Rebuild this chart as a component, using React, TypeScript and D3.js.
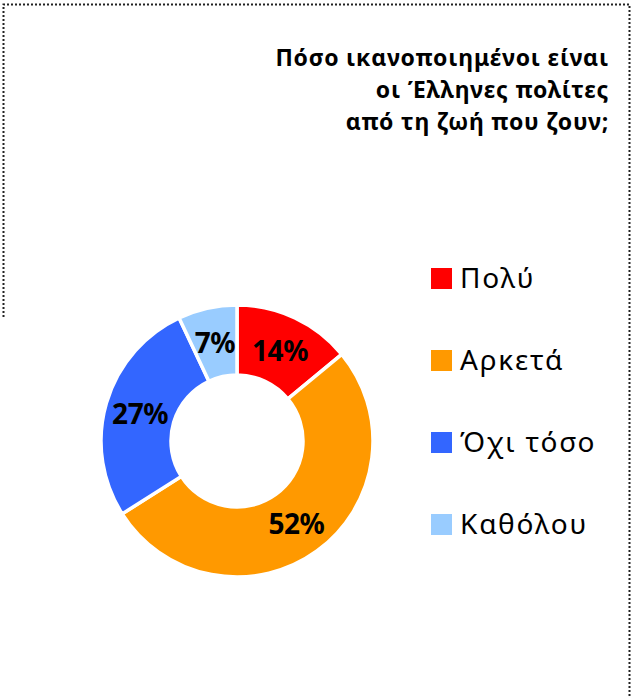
import React from "react";
import * as d3 from "d3";

const categories = ["Πολύ", "Αρκετά", "Όχι τόσο", "Καθόλου"];
const values = [14, 52, 27, 7];
const colors = ["#FF0000", "#FF9900", "#3366FF", "#99CCFF"];
const titleLines = ["Πόσο ικανοποιημένοι είναι", "οι Έλληνες πολίτες", "από τη ζωή που ζουν;"];

const W = 632;
const H = 697;
const FONT = "'Noto Sans', 'DejaVu Sans', sans-serif";

export default function App() {
  const cx = 237;
  const cy = 441;
  const outerR = 136;
  const innerR = 66;

  const pie = d3.pie<number>().sort(null).value((d) => d);
  const arcs = pie(values);
  const arc = d3.arc<d3.PieArcDatum<number>>().innerRadius(innerR).outerRadius(outerR);

  const legendX = 431;
  const legendY0 = 268;
  const legendStep = 82;

  return (
    <svg
      width={W}
      height={H}
      style={{ position: "absolute", left: 0, top: 0, background: "#fff" }}
      fontFamily={FONT}
    >
      <rect x={0} y={0} width={W} height={H} fill="#fff" />
      {/* dotted border */}
      <path
        d={`M3.5,317 L3.5,4.5 L629.5,4.5 L629.5,${H}`}
        fill="none"
        stroke="#222"
        strokeWidth={2}
        strokeDasharray="2,2"
      />
      {/* title */}
      {titleLines.map((t, i) => (
        <text
          key={i}
          x={609}
          y={66 + i * 32}
          textAnchor="end"
          fontSize={23}
          fontWeight="bold"
          letterSpacing={0.8}
          fill="#000"
        >
          {t}
        </text>
      ))}
      {/* donut */}
      <g transform={`translate(${cx},${cy})`}>
        {arcs.map((a, i) => (
          <path key={i} d={arc(a) || ""} fill={colors[i]} stroke="#fff" strokeWidth={3.5} />
        ))}
        {arcs.map((a, i) => {
          const [x, y] = arc.centroid(a);
          return (
            <text
              key={"l" + i}
              x={x}
              y={y}
              textAnchor="middle"
              dominantBaseline="central"
              fontSize={28}
              fontWeight="bold"
              fill="#000"
              letterSpacing={-0.5}
            >
              {values[i]}%
            </text>
          );
        })}
      </g>
      {/* legend */}
      {categories.map((c, i) => (
        <g key={c} transform={`translate(${legendX},${legendY0 + i * legendStep})`}>
          <rect x={0} y={0} width={21} height={21} fill={colors[i]} />
          <text x={29} y={20} fontSize={28} letterSpacing={1.8} fill="#000">
            {c}
          </text>
        </g>
      ))}
    </svg>
  );
}
